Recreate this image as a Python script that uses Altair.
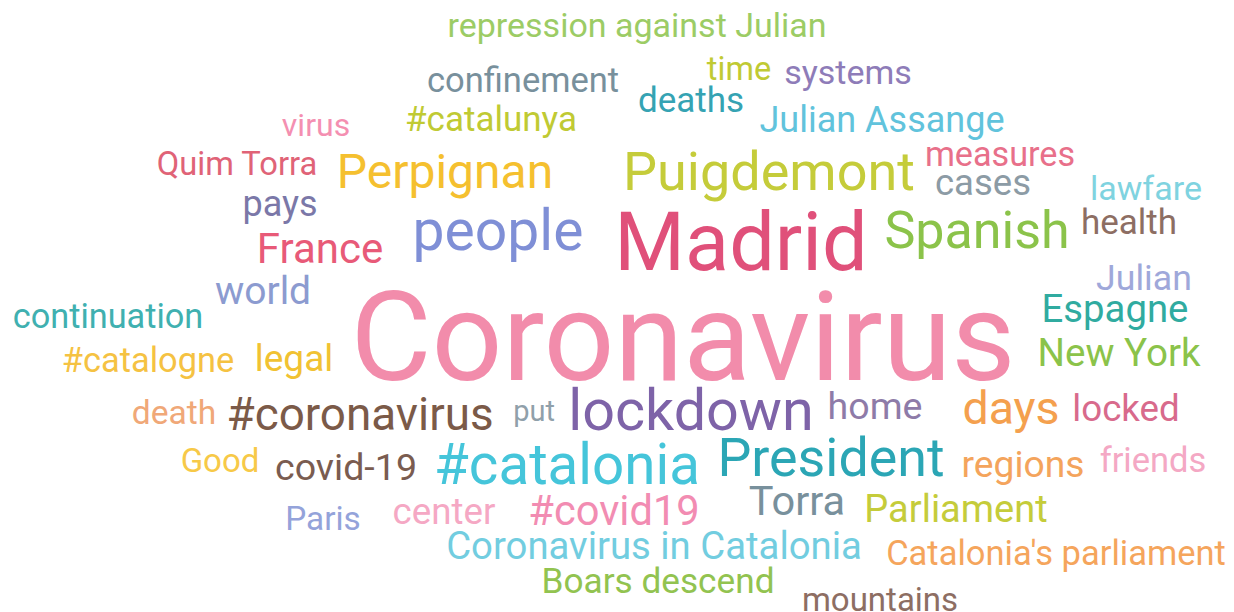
import altair as alt
import pandas as pd

words = [
    "repression against Julian", "confinement", "time", "systems", "deaths",
    "virus", "#catalunya", "Julian Assange", "Quim Torra", "Perpignan",
    "Puigdemont", "measures", "cases", "lawfare", "pays",
    "people", "Madrid", "Spanish", "health", "France",
    "Julian", "world", "continuation", "Coronavirus", "Espagne",
    "#catalogne", "legal", "New York", "death", "#coronavirus",
    "put", "lockdown", "home", "days", "locked",
    "Good", "covid-19", "#catalonia", "President", "regions",
    "friends", "Paris", "center", "#covid19", "Torra",
    "Parliament", "Coronavirus in Catalonia", "Catalonia's parliament", "Boars descend", "mountains",
]
# word centre (horizontal) and baseline (vertical), in picture pixels
cx = [
    637, 523, 739, 848, 691,
    316, 491, 882, 237, 445,
    769, 1000, 983, 1146, 280,
    498, 741, 977, 1129, 320,
    1144, 263, 108, 683, 1115,
    148, 294, 1119, 174, 360,
    534, 691, 875, 1011, 1126,
    220, 346, 567, 831, 1023,
    1153, 323, 444, 614, 797,
    956, 654, 1056, 658, 880,
]
by = [
    37, 92, 80, 84, 112,
    136, 131, 132, 175, 188,
    190, 166, 195, 200, 216,
    250, 270, 248, 234, 263,
    290, 304, 328, 380, 322,
    372, 371, 366, 424, 430,
    421, 430, 419, 424, 421,
    472, 480, 484, 476, 477,
    472, 530, 524, 525, 515,
    522, 559, 565, 593, 611,
]
weight = [
    34, 34.5, 32.5, 34, 35,
    32, 35, 36, 32.7, 48,
    54, 34.2, 36.5, 34, 36,
    57, 81, 52, 35, 42,
    35.7, 39, 34.3, 124.5, 38.3,
    34.4, 37, 38.6, 33.6, 45.8,
    29, 57.5, 37.5, 46.5, 36.7,
    33, 37.6, 56.5, 53.8, 37.2,
    34.5, 33.3, 36.7, 41.6, 41.5,
    38, 38.3, 34.5, 35.2, 33,
]
colors = [
    "#9ccc65", "#78909c", "#c0ca33", "#8e7cb8", "#35a3b3",
    "#f48fb1", "#c0ca33", "#61c3dc", "#e06377", "#f5c02f",
    "#c5cc3a", "#e8708a", "#8c9ba5", "#7fd3e0", "#7b78a8",
    "#7f8fd6", "#e0507a", "#8bc34a", "#8d6e63", "#e85a78",
    "#9fa8da", "#8c9bd0", "#40b0b0", "#f28cab", "#30aba0",
    "#f5c242", "#f1c232", "#8bc34a", "#f0a878", "#7b5a48",
    "#90a0aa", "#7e63a8", "#8e7ba8", "#f4a04e", "#d86a8c",
    "#f7c948", "#7a5c50", "#45c5da", "#2ba6b5", "#f4a45c",
    "#f4a8c4", "#94a3da", "#f5a8c4", "#f28cb2", "#78909c",
    "#c5cc3a", "#72cde0", "#f5a55c", "#92c350", "#8d6e63",
]

df = pd.DataFrame({"word": words, "cx": cx, "by": by, "weight": weight, "color": colors})

W, H = 1218, 604
chart = (
    alt.Chart(df)
    .mark_text(font="Roboto", align="center", baseline="alphabetic", fontWeight="normal")
    .encode(
        x=alt.X("cx:Q", scale=alt.Scale(domain=[8, 8 + W], nice=False, zero=False), axis=None),
        y=alt.Y("by:Q", scale=alt.Scale(domain=[8, 8 + H], nice=False, zero=False, reverse=True), axis=None),
        size=alt.Size("weight:Q", scale=alt.Scale(type="linear", domain=[0, 100], range=[0, 100]), legend=None),
        color=alt.Color("color:N", scale=None),
        text="word:N",
    )
    .properties(width=W, height=H, padding=0, autosize=alt.AutoSizeParams(type="none"), background="white")
    .configure_view(stroke=None)
)

chart.save("out.html", embed_options={"renderer": "svg", "actions": False})
